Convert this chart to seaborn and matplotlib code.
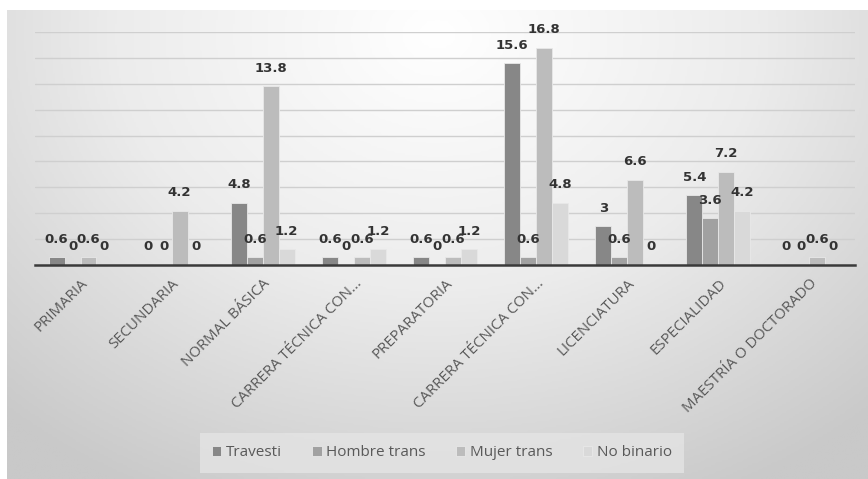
import matplotlib
matplotlib.use("Agg")
import matplotlib.pyplot as plt
import numpy as np
import pandas as pd
import seaborn as sns

# Data
categories = ["PRIMARIA", "SECUNDARIA", "NORMAL BÁSICA", "CARRERA TÉCNICA CON...",
              "PREPARATORIA", "CARRERA TÉCNICA CON...", "LICENCIATURA",
              "ESPECIALIDAD", "MAESTRÍA O DOCTORADO"]
series = ["Travesti", "Hombre trans", "Mujer trans", "No binario"]
travesti = [0.6, 0, 4.8, 0.6, 0.6, 15.6, 3, 5.4, 0]
hombre_trans = [0, 0, 0.6, 0, 0, 0.6, 0.6, 3.6, 0]
mujer_trans = [0.6, 4.2, 13.8, 0.6, 0.6, 16.8, 6.6, 7.2, 0.6]
no_binario = [0, 0, 1.2, 1.2, 1.2, 4.8, 0, 4.2, 0]
colors = ["#878787", "#a1a1a1", "#bcbcbc", "#d9d9d9"]

# categories repeat a label, so keep a unique key for the x axis
keys = [f"{i}" for i in range(len(categories))]
df = pd.DataFrame({"key": keys * 4,
                   "Serie": np.repeat(series, len(categories)),
                   "Valor": travesti + hombre_trans + mujer_trans + no_binario})

sns.set_theme(style="white")
narrow = ["Open Sans", "DejaVu Sans"]
plt.rcParams["font.family"] = ["DejaVu Sans"]

fig = plt.figure(figsize=(8.68, 4.79), dpi=100, facecolor="white")

# gradient backdrop of the chart area
bg = fig.add_axes([7 / 868, 0, 861 / 868, 469 / 479])
yy, xx = np.mgrid[0:1:200j, 0:1:400j]
r = np.sqrt(((xx - 0.5) / 0.75) ** 2 + ((yy - 0.05) / 1.1) ** 2)
bg.imshow(np.clip(r, 0, 1), cmap=matplotlib.colors.LinearSegmentedColormap.from_list(
    "g", ["#ffffff", "#ececec", "#c9c9c9"]), aspect="auto", extent=[0, 1, 1, 0], vmin=0, vmax=1)
bg.set_axis_off()

ax = fig.add_axes([35 / 868, 1 - 265 / 479, 820 / 868, 233 / 479])
ax.patch.set_alpha(0)
sns.barplot(data=df, x="key", y="Valor", hue="Serie", palette=colors, width=0.7,
            gap=0, edgecolor="#e8e8e8", linewidth=0.6, ax=ax, legend=True)
ax.set_ylim(0, 18)
ax.set_yticks(np.arange(0, 19, 2))
ax.yaxis.grid(True, color="#cfcfcf", linewidth=1)
ax.set_axisbelow(True)
ax.tick_params(axis="y", left=False, labelleft=False)
for s in ["top", "right", "left"]:
    ax.spines[s].set_visible(False)
ax.spines["bottom"].set_color("#3a3a3a")
ax.spines["bottom"].set_linewidth(1.8)
ax.set_xlabel("")
ax.set_ylabel("")
ax.set_xticks(range(len(categories)))
ax.set_xticklabels(categories, rotation=45, ha="right", rotation_mode="anchor",
                   fontsize=10.8, color="#595959", family=narrow)
ax.tick_params(axis="x", length=0, pad=8)

for cont in ax.containers:
    for bar in cont:
        h = bar.get_height()
        ax.annotate(f"{h:g}", (bar.get_x() + bar.get_width() / 2, h),
                    xytext=(0, 13), textcoords="offset points", ha="center", va="center",
                    fontsize=9.5, fontweight="bold", color="#333333")

leg = ax.legend(loc="center", bbox_to_anchor=(442 / 868, 1 - 453 / 479),
                bbox_transform=fig.transFigure, ncol=4, frameon=True,
                prop={"family": narrow, "size": 11},
                handlelength=0.6, handleheight=0.6, handletextpad=0.3, columnspacing=2.0,
                borderpad=0.6)
leg.get_frame().set_facecolor("#e4e4e4")
leg.get_frame().set_edgecolor("none")
leg.get_frame().set_boxstyle("square", pad=0.2)
for t in leg.get_texts():
    t.set_color("#595959")

fig.savefig("out.png", dpi=100, facecolor="white")
